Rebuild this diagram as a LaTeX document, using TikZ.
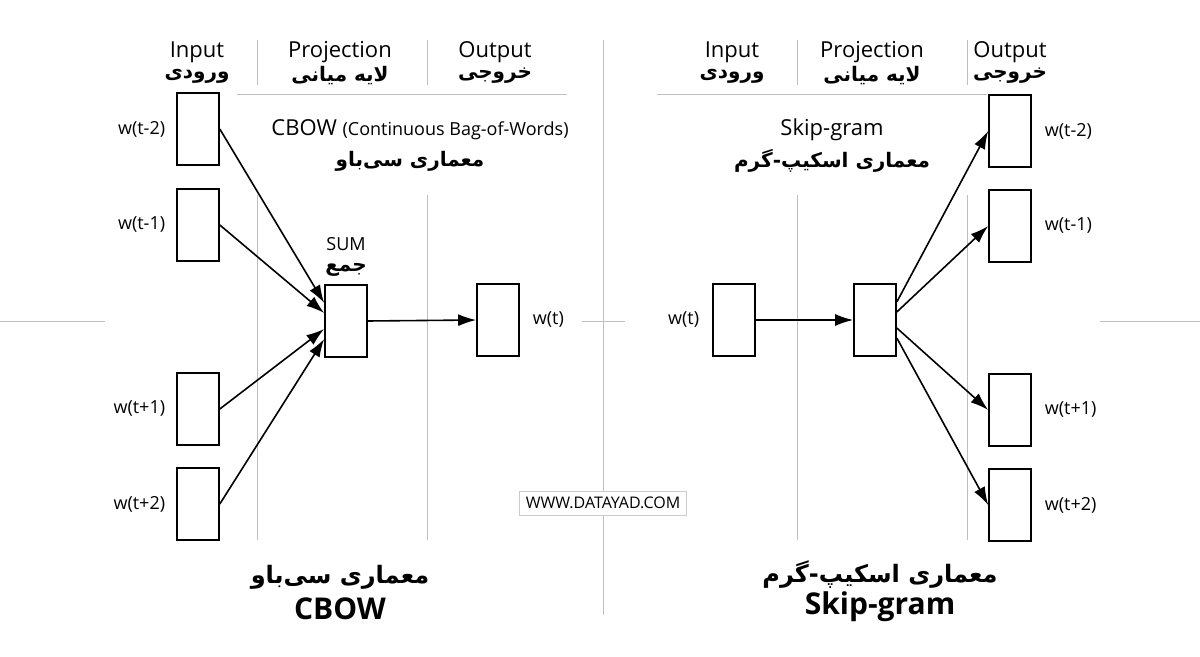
\documentclass[tikz,border=0pt]{standalone}
\usepackage{fontspec}
\setmainfont{Open Sans}
\newfontfamily\farsi[Script=Arabic]{DejaVu Sans}
\TeXXeTstate=1
\newcommand{\fa}[1]{{\farsi\beginR #1\endR}}
\usetikzlibrary{positioning,arrows.meta}
\begin{document}
\begin{tikzpicture}[x=0.5pt,y=-0.5pt,>={Latex[length=9pt,width=6pt]},
  cell/.style={draw,thick,minimum width=21pt,minimum height=36pt,inner sep=0pt},
  guide/.style={draw=black!25,line width=0.5pt},
  word/.style={font=\fontsize{9}{10}\selectfont},
  head/.style={font=\fontsize{11}{12}\selectfont},
  headfa/.style={font=\fontsize{10}{11}\selectfont\bfseries}]
\useasboundingbox (0,0) rectangle (1200,657);
% guide lines
\draw[guide] (603,40) -- (603,615);
\draw[guide] (0,322) -- (105,322) (582,322) -- (625,322) (1100,322) -- (1200,322);
\draw[guide] (237,95) -- (567,95) (657,95) -- (987,95);
\foreach \x in {257,427,797,967} {
  \draw[guide] (\x,40) -- (\x,85);
  \draw[guide] (\x,195) -- (\x,540);
}
% headers
\foreach \x/\en/\fatxt in {197/Input/ورودی,340/Projection/لایه میانی,495/Output/خروجی,
                           732/Input/ورودی,872/Projection/لایه میانی,1010/Output/خروجی} {
  \node[head] at (\x,52) {\en};
  \node[headfa] at (\x,76) {\fa{\fatxt}};
}
% CBOW
\node[head] (cbowtitle) at (420,130) {CBOW {\fontsize{9}{10}\selectfont(Continuous Bag-of-Words)}};
\node[headfa] (cbowfa) at (410,161) {\fa{معماری سی‌باو}};
\node[cell] (in1) at (198,129) {};
\node[cell] (in2) at (198,225) {};
\node[cell] (in3) at (198,409) {};
\node[cell] (in4) at (198,504) {};
\node[word,left=2pt of in1] {w(t-2)};
\node[word,left=2pt of in2] {w(t-1)};
\node[word,left=2pt of in3] {w(t+1)};
\node[word,left=2pt of in4] {w(t+2)};
\node[cell] (sum) at (346,321) {};
\node[word] (sumen) at (346,244) {SUM};
\node[headfa] (sumfa) at (346,270) {\fa{جمع}};
\node[cell] (out) at (498,320) {};
\node[word,right=3pt of out] {w(t)};
\draw[->,thick] (in1.east) -- ([yshift=9pt]sum.west);
\draw[->,thick] (in2.east) -- ([yshift=4pt]sum.west);
\draw[->,thick] (in3.east) -- ([yshift=-4pt]sum.west);
\draw[->,thick] (in4.east) -- ([yshift=-9pt]sum.west);
\draw[->,thick] (sum.east) -- (out.west);
\node[font=\fontsize{12}{13}\selectfont\bfseries] (cbowbotfa) at (340,577) {\fa{معماری سی‌باو}};
\node[font=\fontsize{15}{16}\selectfont\bfseries] (cbowbot) at (340,609) {CBOW};
% watermark
\node[draw=black!20,fill=white,font=\fontsize{8}{9}\selectfont,inner sep=3pt] (site) at (603,503) {WWW.DATAYAD.COM};
% Skip-gram
\node[head] (sgtitle) at (832,130) {Skip-gram};
\node[headfa] (sgfa) at (832,161) {\fa{معماری اسکیپ-گرم}};
\node[cell] (sin) at (734,320) {};
\node[word,left=3pt of sin] {w(t)};
\node[cell] (proj) at (875,320) {};
\node[cell] (o1) at (1010,131) {};
\node[cell] (o2) at (1010,226) {};
\node[cell] (o3) at (1010,410) {};
\node[cell] (o4) at (1010,505) {};
\node[word,right=3pt of o1] {w(t-2)};
\node[word,right=3pt of o2] {w(t-1)};
\node[word,right=3pt of o3] {w(t+1)};
\node[word,right=3pt of o4] {w(t+2)};
\draw[->,thick] (sin.east) -- (proj.west);
\foreach \o/\s in {o1/9pt,o2/4pt,o3/-4pt,o4/-9pt}
  \draw[->,thick] ([yshift=\s]proj.east) -- (\o.west);
\node[font=\fontsize{12}{13}\selectfont\bfseries] (sgbotfa) at (880,575) {\fa{معماری اسکیپ-گرم}};
\node[font=\fontsize{15}{16}\selectfont\bfseries] (sgbot) at (880,607) {Skip-gram};
\end{tikzpicture}
\end{document}
